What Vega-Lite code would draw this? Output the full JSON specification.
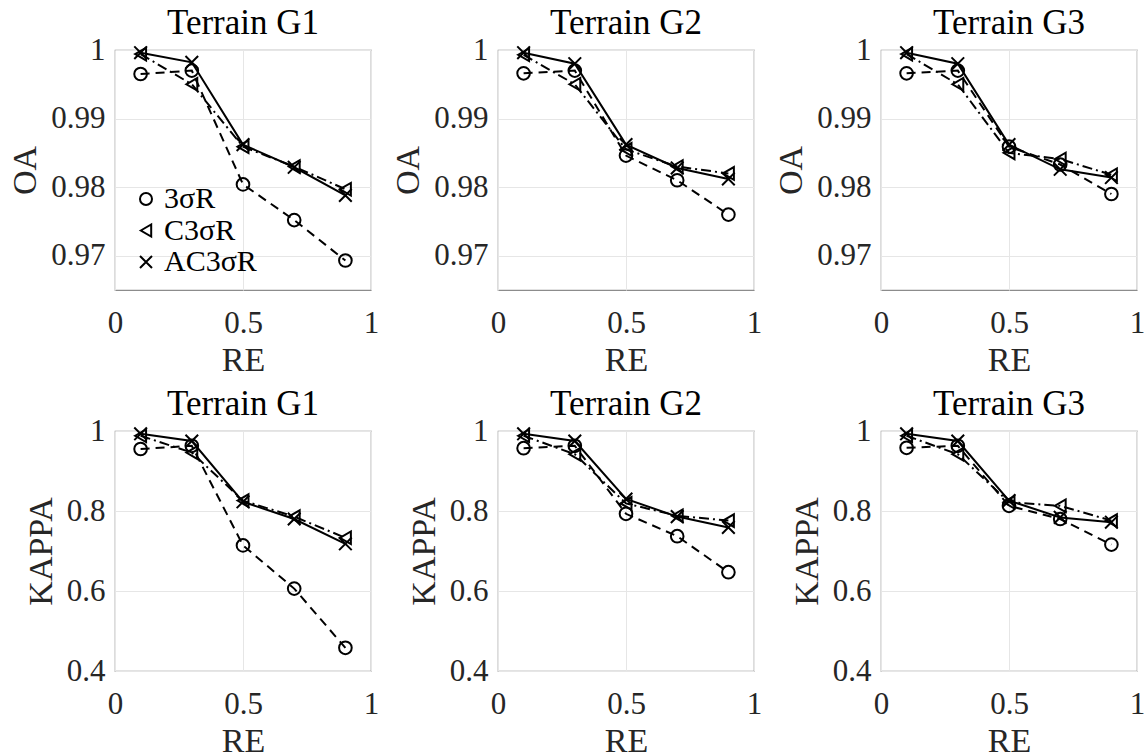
{
  "$schema": "https://vega.github.io/schema/vega-lite/v6.json",
  "background": "white",
  "padding": {"left": 8, "top": 5, "right": 0, "bottom": 0},
  "datasets": {
    "d": [
      {"metric":"OA","terrain":"G1","method":"3σR","re":0.1,"value":0.9965},
      {"metric":"OA","terrain":"G1","method":"3σR","re":0.3,"value":0.9970},
      {"metric":"OA","terrain":"G1","method":"3σR","re":0.5,"value":0.9804},
      {"metric":"OA","terrain":"G1","method":"3σR","re":0.7,"value":0.9752},
      {"metric":"OA","terrain":"G1","method":"3σR","re":0.9,"value":0.9693},
      {"metric":"OA","terrain":"G1","method":"C3σR","re":0.1,"value":0.9994},
      {"metric":"OA","terrain":"G1","method":"C3σR","re":0.3,"value":0.9950},
      {"metric":"OA","terrain":"G1","method":"C3σR","re":0.5,"value":0.9859},
      {"metric":"OA","terrain":"G1","method":"C3σR","re":0.7,"value":0.9830},
      {"metric":"OA","terrain":"G1","method":"C3σR","re":0.9,"value":0.9797},
      {"metric":"OA","terrain":"G1","method":"AC3σR","re":0.1,"value":0.9996},
      {"metric":"OA","terrain":"G1","method":"AC3σR","re":0.3,"value":0.9982},
      {"metric":"OA","terrain":"G1","method":"AC3σR","re":0.5,"value":0.9862},
      {"metric":"OA","terrain":"G1","method":"AC3σR","re":0.7,"value":0.9829},
      {"metric":"OA","terrain":"G1","method":"AC3σR","re":0.9,"value":0.9788},

      {"metric":"OA","terrain":"G2","method":"3σR","re":0.1,"value":0.9966},
      {"metric":"OA","terrain":"G2","method":"3σR","re":0.3,"value":0.9970},
      {"metric":"OA","terrain":"G2","method":"3σR","re":0.5,"value":0.9846},
      {"metric":"OA","terrain":"G2","method":"3σR","re":0.7,"value":0.9810},
      {"metric":"OA","terrain":"G2","method":"3σR","re":0.9,"value":0.9760},
      {"metric":"OA","terrain":"G2","method":"C3σR","re":0.1,"value":0.9993},
      {"metric":"OA","terrain":"G2","method":"C3σR","re":0.3,"value":0.9950},
      {"metric":"OA","terrain":"G2","method":"C3σR","re":0.5,"value":0.9855},
      {"metric":"OA","terrain":"G2","method":"C3σR","re":0.7,"value":0.9830},
      {"metric":"OA","terrain":"G2","method":"C3σR","re":0.9,"value":0.9820},
      {"metric":"OA","terrain":"G2","method":"AC3σR","re":0.1,"value":0.9996},
      {"metric":"OA","terrain":"G2","method":"AC3σR","re":0.3,"value":0.9980},
      {"metric":"OA","terrain":"G2","method":"AC3σR","re":0.5,"value":0.9862},
      {"metric":"OA","terrain":"G2","method":"AC3σR","re":0.7,"value":0.9828},
      {"metric":"OA","terrain":"G2","method":"AC3σR","re":0.9,"value":0.9812},

      {"metric":"OA","terrain":"G3","method":"3σR","re":0.1,"value":0.9966},
      {"metric":"OA","terrain":"G3","method":"3σR","re":0.3,"value":0.9970},
      {"metric":"OA","terrain":"G3","method":"3σR","re":0.5,"value":0.9859},
      {"metric":"OA","terrain":"G3","method":"3σR","re":0.7,"value":0.9833},
      {"metric":"OA","terrain":"G3","method":"3σR","re":0.9,"value":0.9790},
      {"metric":"OA","terrain":"G3","method":"C3σR","re":0.1,"value":0.9994},
      {"metric":"OA","terrain":"G3","method":"C3σR","re":0.3,"value":0.9950},
      {"metric":"OA","terrain":"G3","method":"C3σR","re":0.5,"value":0.9850},
      {"metric":"OA","terrain":"G3","method":"C3σR","re":0.7,"value":0.9841},
      {"metric":"OA","terrain":"G3","method":"C3σR","re":0.9,"value":0.9818},
      {"metric":"OA","terrain":"G3","method":"AC3σR","re":0.1,"value":0.9996},
      {"metric":"OA","terrain":"G3","method":"AC3σR","re":0.3,"value":0.9980},
      {"metric":"OA","terrain":"G3","method":"AC3σR","re":0.5,"value":0.9862},
      {"metric":"OA","terrain":"G3","method":"AC3σR","re":0.7,"value":0.9826},
      {"metric":"OA","terrain":"G3","method":"AC3σR","re":0.9,"value":0.9814},

      {"metric":"KAPPA","terrain":"G1","method":"3σR","re":0.1,"value":0.955},
      {"metric":"KAPPA","terrain":"G1","method":"3σR","re":0.3,"value":0.963},
      {"metric":"KAPPA","terrain":"G1","method":"3σR","re":0.5,"value":0.714},
      {"metric":"KAPPA","terrain":"G1","method":"3σR","re":0.7,"value":0.606},
      {"metric":"KAPPA","terrain":"G1","method":"3σR","re":0.9,"value":0.458},
      {"metric":"KAPPA","terrain":"G1","method":"C3σR","re":0.1,"value":0.988},
      {"metric":"KAPPA","terrain":"G1","method":"C3σR","re":0.3,"value":0.946},
      {"metric":"KAPPA","terrain":"G1","method":"C3σR","re":0.5,"value":0.826},
      {"metric":"KAPPA","terrain":"G1","method":"C3σR","re":0.7,"value":0.786},
      {"metric":"KAPPA","terrain":"G1","method":"C3σR","re":0.9,"value":0.733},
      {"metric":"KAPPA","terrain":"G1","method":"AC3σR","re":0.1,"value":0.993},
      {"metric":"KAPPA","terrain":"G1","method":"AC3σR","re":0.3,"value":0.975},
      {"metric":"KAPPA","terrain":"G1","method":"AC3σR","re":0.5,"value":0.823},
      {"metric":"KAPPA","terrain":"G1","method":"AC3σR","re":0.7,"value":0.780},
      {"metric":"KAPPA","terrain":"G1","method":"AC3σR","re":0.9,"value":0.718},

      {"metric":"KAPPA","terrain":"G2","method":"3σR","re":0.1,"value":0.957},
      {"metric":"KAPPA","terrain":"G2","method":"3σR","re":0.3,"value":0.963},
      {"metric":"KAPPA","terrain":"G2","method":"3σR","re":0.5,"value":0.793},
      {"metric":"KAPPA","terrain":"G2","method":"3σR","re":0.7,"value":0.737},
      {"metric":"KAPPA","terrain":"G2","method":"3σR","re":0.9,"value":0.647},
      {"metric":"KAPPA","terrain":"G2","method":"C3σR","re":0.1,"value":0.988},
      {"metric":"KAPPA","terrain":"G2","method":"C3σR","re":0.3,"value":0.942},
      {"metric":"KAPPA","terrain":"G2","method":"C3σR","re":0.5,"value":0.819},
      {"metric":"KAPPA","terrain":"G2","method":"C3σR","re":0.7,"value":0.788},
      {"metric":"KAPPA","terrain":"G2","method":"C3σR","re":0.9,"value":0.776},
      {"metric":"KAPPA","terrain":"G2","method":"AC3σR","re":0.1,"value":0.993},
      {"metric":"KAPPA","terrain":"G2","method":"AC3σR","re":0.3,"value":0.975},
      {"metric":"KAPPA","terrain":"G2","method":"AC3σR","re":0.5,"value":0.830},
      {"metric":"KAPPA","terrain":"G2","method":"AC3σR","re":0.7,"value":0.786},
      {"metric":"KAPPA","terrain":"G2","method":"AC3σR","re":0.9,"value":0.759},

      {"metric":"KAPPA","terrain":"G3","method":"3σR","re":0.1,"value":0.958},
      {"metric":"KAPPA","terrain":"G3","method":"3σR","re":0.3,"value":0.963},
      {"metric":"KAPPA","terrain":"G3","method":"3σR","re":0.5,"value":0.813},
      {"metric":"KAPPA","terrain":"G3","method":"3σR","re":0.7,"value":0.780},
      {"metric":"KAPPA","terrain":"G3","method":"3σR","re":0.9,"value":0.716},
      {"metric":"KAPPA","terrain":"G3","method":"C3σR","re":0.1,"value":0.988},
      {"metric":"KAPPA","terrain":"G3","method":"C3σR","re":0.3,"value":0.942},
      {"metric":"KAPPA","terrain":"G3","method":"C3σR","re":0.5,"value":0.822},
      {"metric":"KAPPA","terrain":"G3","method":"C3σR","re":0.7,"value":0.813},
      {"metric":"KAPPA","terrain":"G3","method":"C3σR","re":0.9,"value":0.776},
      {"metric":"KAPPA","terrain":"G3","method":"AC3σR","re":0.1,"value":0.993},
      {"metric":"KAPPA","terrain":"G3","method":"AC3σR","re":0.3,"value":0.975},
      {"metric":"KAPPA","terrain":"G3","method":"AC3σR","re":0.5,"value":0.826},
      {"metric":"KAPPA","terrain":"G3","method":"AC3σR","re":0.7,"value":0.784},
      {"metric":"KAPPA","terrain":"G3","method":"AC3σR","re":0.9,"value":0.772}
    ]
  },
  "columns": 3,
  "spacing": {"row": 141, "column": 127},
  "bounds": "flush",
  "resolve": {"scale": {"shape": "independent"}, "legend": {"shape": "independent"}},
  "concat": [
    {
      "title": "Terrain G1", "width": 256, "height": 240,
      "data": {"name": "d"},
      "transform": [{"filter": "datum.metric === 'OA' && datum.terrain === 'G1'"}],
      "encoding": {
        "x": {"field": "re", "type": "quantitative", "scale": {"domain": [0, 1], "nice": false}, "axis": {"values": [0, 0.5, 1], "title": "RE", "format": "~g", "labelFont": "Liberation Serif"}},
        "y": {"field": "value", "type": "quantitative", "scale": {"domain": [0.965, 1], "nice": false, "zero": false}, "axis": {"values": [0.97, 0.98, 0.99, 1], "title": "OA", "format": "~g", "labelFont": "Liberation Serif"}}
      },
      "layer": [
        {"transform": [{"filter": "datum.method === '3σR'"}], "mark": {"type": "line", "color": "black", "strokeWidth": 2, "strokeDash": [9, 6]}, "encoding": {}},
        {"transform": [{"filter": "datum.method === 'C3σR'"}], "mark": {"type": "line", "color": "black", "strokeWidth": 2, "strokeDash": [10, 4, 2, 4]}, "encoding": {}},
        {"transform": [{"filter": "datum.method === 'AC3σR'"}], "mark": {"type": "line", "color": "black", "strokeWidth": 2}, "encoding": {}},
        {"mark": {"type": "point", "filled": false, "color": "black", "strokeWidth": 2, "size": 160, "opacity": 1}, "encoding": {"shape": {"field": "method", "type": "nominal", "scale": {"domain": ["3σR", "C3σR", "AC3σR"], "range": ["circle", "triangle-left", "M-1,-1L1,1M-1,1L1,-1"]},
          "legend": {"orient": "none", "legendX": 16, "legendY": 134, "title": null, "labelFont": "Liberation Serif", "labelFontSize": 30, "labelColor": "black", "symbolSize": 144, "symbolStrokeWidth": 2, "symbolStrokeColor": "black", "symbolFillColor": "transparent", "symbolOpacity": 1, "labelOffset": 3, "rowPadding": 1.5, "padding": 0}}}}
      ]
    },
    {
      "title": "Terrain G2", "width": 256, "height": 240,
      "data": {"name": "d"},
      "transform": [{"filter": "datum.metric === 'OA' && datum.terrain === 'G2'"}],
      "encoding": {
        "x": {"field": "re", "type": "quantitative", "scale": {"domain": [0, 1], "nice": false}, "axis": {"values": [0, 0.5, 1], "title": "RE", "format": "~g", "labelFont": "Liberation Serif"}},
        "y": {"field": "value", "type": "quantitative", "scale": {"domain": [0.965, 1], "nice": false, "zero": false}, "axis": {"values": [0.97, 0.98, 0.99, 1], "title": "OA", "format": "~g", "labelFont": "Liberation Serif"}}
      },
      "layer": [
        {"transform": [{"filter": "datum.method === '3σR'"}], "mark": {"type": "line", "color": "black", "strokeWidth": 2, "strokeDash": [9, 6]}, "encoding": {}},
        {"transform": [{"filter": "datum.method === 'C3σR'"}], "mark": {"type": "line", "color": "black", "strokeWidth": 2, "strokeDash": [10, 4, 2, 4]}, "encoding": {}},
        {"transform": [{"filter": "datum.method === 'AC3σR'"}], "mark": {"type": "line", "color": "black", "strokeWidth": 2}, "encoding": {}},
        {"mark": {"type": "point", "filled": false, "color": "black", "strokeWidth": 2, "size": 160, "opacity": 1}, "encoding": {"shape": {"field": "method", "type": "nominal", "scale": {"domain": ["3σR", "C3σR", "AC3σR"], "range": ["circle", "triangle-left", "M-1,-1L1,1M-1,1L1,-1"]}, "legend": null}}}
      ]
    },
    {
      "title": "Terrain G3", "width": 256, "height": 240,
      "data": {"name": "d"},
      "transform": [{"filter": "datum.metric === 'OA' && datum.terrain === 'G3'"}],
      "encoding": {
        "x": {"field": "re", "type": "quantitative", "scale": {"domain": [0, 1], "nice": false}, "axis": {"values": [0, 0.5, 1], "title": "RE", "format": "~g", "labelFont": "Liberation Serif"}},
        "y": {"field": "value", "type": "quantitative", "scale": {"domain": [0.965, 1], "nice": false, "zero": false}, "axis": {"values": [0.97, 0.98, 0.99, 1], "title": "OA", "format": "~g", "labelFont": "Liberation Serif"}}
      },
      "layer": [
        {"transform": [{"filter": "datum.method === '3σR'"}], "mark": {"type": "line", "color": "black", "strokeWidth": 2, "strokeDash": [9, 6]}, "encoding": {}},
        {"transform": [{"filter": "datum.method === 'C3σR'"}], "mark": {"type": "line", "color": "black", "strokeWidth": 2, "strokeDash": [10, 4, 2, 4]}, "encoding": {}},
        {"transform": [{"filter": "datum.method === 'AC3σR'"}], "mark": {"type": "line", "color": "black", "strokeWidth": 2}, "encoding": {}},
        {"mark": {"type": "point", "filled": false, "color": "black", "strokeWidth": 2, "size": 160, "opacity": 1}, "encoding": {"shape": {"field": "method", "type": "nominal", "scale": {"domain": ["3σR", "C3σR", "AC3σR"], "range": ["circle", "triangle-left", "M-1,-1L1,1M-1,1L1,-1"]}, "legend": null}}}
      ]
    },
    {
      "title": "Terrain G1", "width": 256, "height": 240,
      "data": {"name": "d"},
      "transform": [{"filter": "datum.metric === 'KAPPA' && datum.terrain === 'G1'"}],
      "encoding": {
        "x": {"field": "re", "type": "quantitative", "scale": {"domain": [0, 1], "nice": false}, "axis": {"values": [0, 0.5, 1], "title": "RE", "format": "~g", "labelFont": "Liberation Serif"}},
        "y": {"field": "value", "type": "quantitative", "scale": {"domain": [0.4, 1], "nice": false, "zero": false}, "axis": {"values": [0.4, 0.6, 0.8, 1], "title": "KAPPA", "format": "~g", "labelFont": "Liberation Serif"}}
      },
      "layer": [
        {"transform": [{"filter": "datum.method === '3σR'"}], "mark": {"type": "line", "color": "black", "strokeWidth": 2, "strokeDash": [9, 6]}, "encoding": {}},
        {"transform": [{"filter": "datum.method === 'C3σR'"}], "mark": {"type": "line", "color": "black", "strokeWidth": 2, "strokeDash": [10, 4, 2, 4]}, "encoding": {}},
        {"transform": [{"filter": "datum.method === 'AC3σR'"}], "mark": {"type": "line", "color": "black", "strokeWidth": 2}, "encoding": {}},
        {"mark": {"type": "point", "filled": false, "color": "black", "strokeWidth": 2, "size": 160, "opacity": 1}, "encoding": {"shape": {"field": "method", "type": "nominal", "scale": {"domain": ["3σR", "C3σR", "AC3σR"], "range": ["circle", "triangle-left", "M-1,-1L1,1M-1,1L1,-1"]}, "legend": null}}}
      ]
    },
    {
      "title": "Terrain G2", "width": 256, "height": 240,
      "data": {"name": "d"},
      "transform": [{"filter": "datum.metric === 'KAPPA' && datum.terrain === 'G2'"}],
      "encoding": {
        "x": {"field": "re", "type": "quantitative", "scale": {"domain": [0, 1], "nice": false}, "axis": {"values": [0, 0.5, 1], "title": "RE", "format": "~g", "labelFont": "Liberation Serif"}},
        "y": {"field": "value", "type": "quantitative", "scale": {"domain": [0.4, 1], "nice": false, "zero": false}, "axis": {"values": [0.4, 0.6, 0.8, 1], "title": "KAPPA", "format": "~g", "labelFont": "Liberation Serif"}}
      },
      "layer": [
        {"transform": [{"filter": "datum.method === '3σR'"}], "mark": {"type": "line", "color": "black", "strokeWidth": 2, "strokeDash": [9, 6]}, "encoding": {}},
        {"transform": [{"filter": "datum.method === 'C3σR'"}], "mark": {"type": "line", "color": "black", "strokeWidth": 2, "strokeDash": [10, 4, 2, 4]}, "encoding": {}},
        {"transform": [{"filter": "datum.method === 'AC3σR'"}], "mark": {"type": "line", "color": "black", "strokeWidth": 2}, "encoding": {}},
        {"mark": {"type": "point", "filled": false, "color": "black", "strokeWidth": 2, "size": 160, "opacity": 1}, "encoding": {"shape": {"field": "method", "type": "nominal", "scale": {"domain": ["3σR", "C3σR", "AC3σR"], "range": ["circle", "triangle-left", "M-1,-1L1,1M-1,1L1,-1"]}, "legend": null}}}
      ]
    },
    {
      "title": "Terrain G3", "width": 256, "height": 240,
      "data": {"name": "d"},
      "transform": [{"filter": "datum.metric === 'KAPPA' && datum.terrain === 'G3'"}],
      "encoding": {
        "x": {"field": "re", "type": "quantitative", "scale": {"domain": [0, 1], "nice": false}, "axis": {"values": [0, 0.5, 1], "title": "RE", "format": "~g", "labelFont": "Liberation Serif"}},
        "y": {"field": "value", "type": "quantitative", "scale": {"domain": [0.4, 1], "nice": false, "zero": false}, "axis": {"values": [0.4, 0.6, 0.8, 1], "title": "KAPPA", "format": "~g", "labelFont": "Liberation Serif"}}
      },
      "layer": [
        {"transform": [{"filter": "datum.method === '3σR'"}], "mark": {"type": "line", "color": "black", "strokeWidth": 2, "strokeDash": [9, 6]}, "encoding": {}},
        {"transform": [{"filter": "datum.method === 'C3σR'"}], "mark": {"type": "line", "color": "black", "strokeWidth": 2, "strokeDash": [10, 4, 2, 4]}, "encoding": {}},
        {"transform": [{"filter": "datum.method === 'AC3σR'"}], "mark": {"type": "line", "color": "black", "strokeWidth": 2}, "encoding": {}},
        {"mark": {"type": "point", "filled": false, "color": "black", "strokeWidth": 2, "size": 160, "opacity": 1}, "encoding": {"shape": {"field": "method", "type": "nominal", "scale": {"domain": ["3σR", "C3σR", "AC3σR"], "range": ["circle", "triangle-left", "M-1,-1L1,1M-1,1L1,-1"]}, "legend": null}}}
      ]
    }
  ],
  "config": {
    "font": "Liberation Serif",
    "view": {"stroke": "#8c8c8c", "strokeWidth": 1.2},
    "title": {"font": "Liberation Serif", "fontSize": 35, "fontWeight": "normal", "color": "black", "frame": "group", "baseline": "alphabetic", "offset": -7},
    "axis": {
      "labelFont": "Liberation Serif", "labelFontSize": 31, "labelColor": "#262626",
      "titleFont": "Liberation Serif", "titleFontSize": 34, "titleFontWeight": "normal", "titleColor": "#262626",
      "ticks": false, "domain": false, "gridColor": "#e6e6e6", "gridWidth": 1,
      "labelFlush": false, "labelOverlap": false, "labelBound": false
    },
    "axisX": {"labelPadding": 18, "titlePadding": 5},
    "axisY": {"labelPadding": 10, "titlePadding": 8}
  }
}
